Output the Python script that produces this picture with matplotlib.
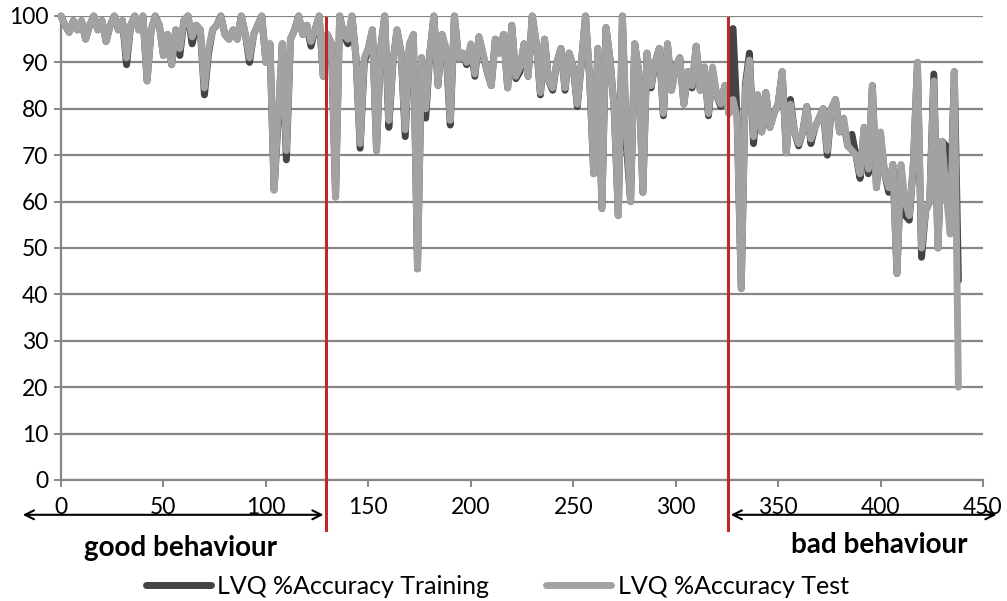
import matplotlib
matplotlib.use("Agg")
import matplotlib.pyplot as plt
import numpy as np

# x positions (every 2 units)
x_start, x_step = 0, 2

test_acc = [
    100, 98, 96.5, 99, 97, 99, 95, 98, 100, 97,          # 0-18
    99, 94.5, 98, 100, 97, 99, 91, 98, 100, 97,          # 20-38
    100, 86, 97, 100, 98, 91.5, 96, 89.5, 97, 93,        # 40-58
    99, 100, 95.5, 98, 97, 84.5, 93, 97, 98, 100,        # 60-78
    96, 95, 97, 95, 100, 96, 91, 96, 98, 100,            # 80-98
    90, 94, 62.5, 79, 94, 71, 95, 97, 100, 96,           # 100-118
    98, 94.5, 97, 100, 87, 96, 94, 61, 100, 96,          # 120-138
    95, 100, 91, 72.5, 91, 93, 97, 71, 93, 100,          # 140-158
    77.5, 90, 97, 92, 75.5, 94, 96, 45.5, 91, 80,        # 160-178
    92, 100, 85, 96, 93, 77.5, 100, 91, 92, 90,          # 180-198
    94, 87.5, 95.5, 92, 88, 85, 95, 92, 96, 84.5,        # 200-218
    98, 87, 89, 94, 87, 100, 94, 83.5, 95, 86,           # 220-238
    84.5, 90, 93, 84.5, 92, 89, 81, 90, 100, 87,         # 240-258
    66, 93, 58.5, 97.5, 90.5, 80, 57, 100, 75, 60,       # 260-278
    94, 88, 62, 92, 85, 90, 93, 79, 94, 84,              # 280-298
    89, 91, 81, 88, 85, 93.5, 84, 89, 79, 89,            # 300-318
    83, 81, 85, 79, 82, 78, 41.3, 84, 90.5, 74,          # 320-338
    83, 75, 83.5, 76, 79, 81, 88, 70.5, 81, 75,          # 340-358
    72.5, 75, 80.5, 73.5, 76, 78, 80, 71, 80, 82,        # 360-378
    75, 78, 72, 71, 70, 66, 76, 67, 85, 63,              # 380-398
    75, 66, 63, 68, 44.5, 68, 60, 57, 68, 90,            # 400-418
    50, 58, 60, 86, 50, 73, 62, 53, 88, 20,              # 420-438
]

# training accuracy: identical to test except where read differently
training_acc = list(test_acc)
training_diff = {
    32: 89.5, 58: 91.5, 64: 94, 70: 83, 72: 92, 92: 90, 106: 77.5, 110: 69,
    122: 93.5, 140: 94, 146: 71.5, 148: 90, 160: 76, 168: 74, 170: 93,
    178: 78, 188: 92, 190: 76.5, 198: 89.5, 200: 93, 202: 87, 206: 91.5,
    222: 86.5, 224: 88, 234: 83, 240: 84, 246: 84, 252: 80.5, 258: 86.5,
    276: 72, 288: 84.5, 294: 78.5, 308: 84.5, 316: 78.5, 318: 88, 322: 80.5,
    328: 97.3, 334: 85, 336: 92, 338: 72.5, 356: 82, 360: 72, 366: 72.5,
    374: 70, 382: 77, 386: 74.5, 390: 65, 394: 66, 400: 74, 404: 62,
    410: 67, 412: 57, 414: 56, 420: 48, 426: 87.5, 432: 72, 434: 57, 438: 43,
}
for k, v in training_diff.items():
    training_acc[(k - x_start) // x_step] = v

x_vals = np.arange(len(test_acc)) * x_step + x_start

boundaries = [129.5, 325.5]
x_ticks = list(range(0, 451, 50))
y_ticks = list(range(0, 101, 10))

label_train = "LVQ %Accuracy Training"
label_test = "LVQ %Accuracy Test"

fam = ["Lato", "DejaVu Sans"]

fig = plt.figure(figsize=(10.07, 6.01), dpi=100)
ax = fig.add_axes([61 / 1007, 1 - 480 / 601, (983 - 61) / 1007, (480 - 16) / 601])

grid_col = "#878787"
ax.set_xlim(0, 450)
ax.set_ylim(0, 100)
ax.set_yticks(y_ticks)
ax.set_xticks(x_ticks)
ax.yaxis.grid(True, color=grid_col, lw=1.6, zorder=0)
ax.set_axisbelow(True)
for s in ["top", "right"]:
    ax.spines[s].set_visible(False)
for s in ["left", "bottom"]:
    ax.spines[s].set_color(grid_col)
    ax.spines[s].set_linewidth(1.6)
ax.tick_params(axis="both", direction="out", length=5, width=1.4, color=grid_col,
               labelsize=16.5, labelcolor="black")
ax.tick_params(axis="x", pad=7)
ax.tick_params(axis="y", pad=4)
for lbl in ax.get_xticklabels() + ax.get_yticklabels():
    lbl.set_family(fam)

ln1, = ax.plot(x_vals, training_acc, color="#444444", lw=5.0, solid_joinstyle="round",
               solid_capstyle="round", label=label_train, zorder=3, clip_on=False)
ln2, = ax.plot(x_vals, test_acc, color="#a2a2a4", lw=5.0, solid_joinstyle="round",
               solid_capstyle="round", label=label_test, zorder=4, clip_on=False)

for b in boundaries:
    ax.plot([b, b], [99.5, -10.8], color="#c0262a", lw=2.2, zorder=5, clip_on=False)

ax.annotate("", xy=(-20, -7.5), xytext=(boundaries[0], -7.5),
            arrowprops=dict(arrowstyle="<->", color="black", lw=1.5, mutation_scale=16),
            annotation_clip=False)
ax.annotate("", xy=(boundaries[1], -7.5), xytext=(458, -7.5),
            arrowprops=dict(arrowstyle="<->", color="black", lw=1.5, mutation_scale=16),
            annotation_clip=False)

fig.text(181 / 1007, 1 - 548 / 601, "good behaviour", ha="center", va="center",
         fontsize=20, fontweight="bold", family=fam)
fig.text(879 / 1007, 1 - 545 / 601, "bad behaviour", ha="center", va="center",
         fontsize=20, fontweight="bold", family=fam)

fig.legend(handles=[ln1, ln2], loc="center", bbox_to_anchor=(497 / 1007, 1 - 586 / 601),
           ncol=2, frameon=False, handlelength=2.6, columnspacing=2.3, handletextpad=0.25,
           prop={"family": fam, "size": 18})

fig.savefig("out.png", dpi=100)
